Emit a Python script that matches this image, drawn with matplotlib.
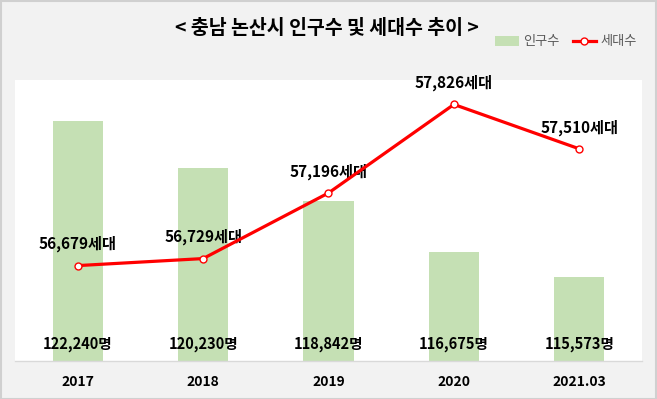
import matplotlib
matplotlib.use("Agg")
import matplotlib.pyplot as plt
from matplotlib.patches import Rectangle
from matplotlib.lines import Line2D

plt.rcParams['font.family'] = ['Noto Sans CJK KR', 'DejaVu Sans']

categories = ["2017", "2018", "2019", "2020", "2021.03"]
population = [122240, 120230, 118842, 116675, 115573]
households = [56679, 56729, 57196, 57826, 57510]

W, H = 657, 399
fig = plt.figure(figsize=(W / 100, H / 100), dpi=100)
fig.patch.set_facecolor('#F2F2F2')
fig.patches.append(Rectangle((0.5 / W, 0.5 / H), (W - 1.5) / W, (H - 1.5) / H,
                             transform=fig.transFigure, fill=False,
                             edgecolor='#D0D0D0', linewidth=1.5))

left, right, top, bottom = 15, 642, 80, 361
ax = fig.add_axes([left / W, (H - bottom) / H, (right - left) / W, (bottom - top) / H])
ax.set_facecolor('white')
x = list(range(len(categories)))
ax.bar(x, population, width=0.4, color='#C5E0B4', zorder=2)
ax.set_ylim(112000, 124000)
ax.set_xlim(-0.5, len(categories) - 0.5)
ax.set_yticks([])
ax.set_xticks(x)
ax.set_xticklabels(categories, fontsize=10, fontweight='bold')
ax.tick_params(axis='x', length=0, pad=10)
for s in ['top', 'left', 'right']:
    ax.spines[s].set_visible(False)
ax.spines['bottom'].set_color('#D9D9D9')
ax.spines['bottom'].set_linewidth(1)

for xi, v in zip(x, population):
    ax.annotate(f"{v:,}명", xy=(xi, 112000), xytext=(0, 12.5), textcoords='offset points',
                ha='center', va='center', fontsize=10.5, fontweight='bold', zorder=5)

ax2 = ax.twinx()
ax2.set_ylim(56000, 58000)
ax2.set_yticks([])
for s in ['top', 'left', 'right', 'bottom']:
    ax2.spines[s].set_visible(False)
ax2.plot(x, households, color='#FF0000', linewidth=2.3, marker='o', markersize=5,
         markerfacecolor='white', markeredgecolor='#FF0000', markeredgewidth=1, zorder=4)
for xi, v in zip(x, households):
    ax2.annotate(f"{v:,}세대", xy=(xi, v), xytext=(0, 15.5), textcoords='offset points',
                 ha='center', va='center', fontsize=11, fontweight='bold')

fig.text(327 / W, 1 - 29 / H, "< 충남 논산시 인구수 및 세대수 추이 >", ha='center', va='center',
         fontsize=14, fontweight='bold')

handles = [Rectangle((0, 0), 1, 1, facecolor='#C5E0B4', edgecolor='none'),
           Line2D([], [], color='#FF0000', linewidth=2.3, marker='o', markersize=5,
                  markerfacecolor='white', markeredgecolor='#FF0000')]
fig.legend(handles, ["인구수", "세대수"], loc='center', bbox_to_anchor=(566 / W, 1 - 42 / H),
           ncol=2, frameon=False, fontsize=9.5, labelcolor='#595959', handlelength=1.8,
           handletextpad=0.3, columnspacing=1.0)

fig.savefig("out.png", dpi=100, facecolor=fig.get_facecolor())
